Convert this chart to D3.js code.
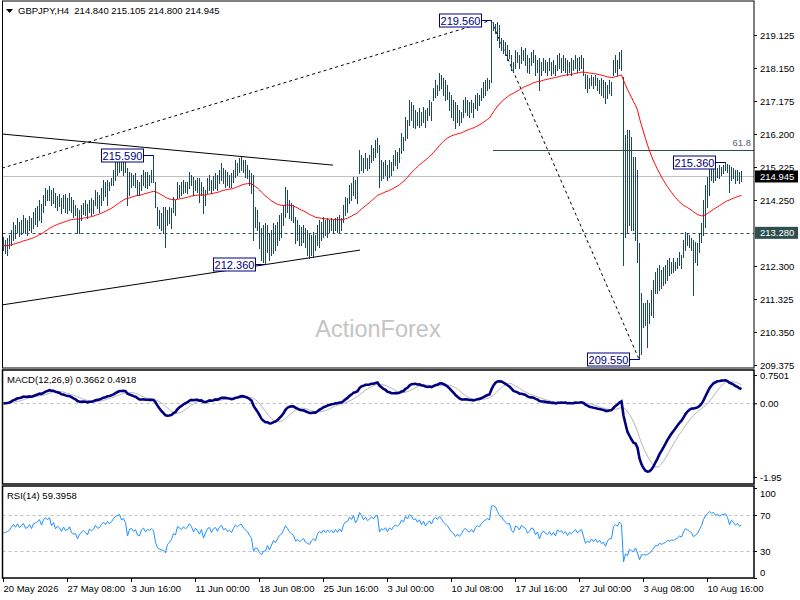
<!DOCTYPE html>
<html>
<head>
<meta charset="utf-8">
<title>GBPJPY,H4</title>
<script src="https://cdn.jsdelivr.net/npm/d3@7"></script>
<style>
body { margin: 0; background: #fff; }
text { font-family: "Liberation Sans", Arial, sans-serif; }
</style>
</head>
<body>
<script>
// H4 bars, 20 May 2026 00:00 onwards
var highs = [
213.16,213.07,213.13,213.22,213.37,213.60,213.51,213.72,213.60,213.66,213.81,
213.72,213.66,213.78,213.72,213.90,214.02,214.07,214.25,214.13,214.40,
214.60,214.55,214.66,214.55,214.60,214.46,214.37,214.43,214.31,214.40,
214.43,214.31,214.46,214.34,214.25,214.10,214.02,213.96,214.10,214.16,
214.25,214.13,214.25,214.31,214.25,214.55,214.49,214.40,214.60,214.84,
214.78,214.84,214.78,214.90,215.14,215.37,215.43,215.58,215.49,215.43,
215.37,215.20,215.08,215.05,214.99,215.05,214.84,214.78,214.99,215.14,
215.08,215.08,214.99,215.14,215.59,214.78,214.04,213.96,213.87,214.04,
214.04,213.96,214.04,214.01,214.34,214.25,214.78,214.69,214.78,214.84,
214.78,214.78,215.08,214.99,214.93,214.84,214.90,214.90,214.78,214.63,
214.55,214.90,214.99,214.84,214.96,215.05,214.99,215.14,215.34,215.20,
215.14,215.08,214.99,215.05,215.14,215.43,215.34,215.49,215.52,215.43,
215.43,215.29,215.14,215.05,214.99,214.04,213.96,213.60,213.42,213.51,
213.57,213.51,213.28,213.37,213.57,213.51,213.60,213.81,213.87,214.10,
214.63,214.55,214.25,214.16,214.10,213.75,213.66,213.51,213.45,213.51,
213.42,213.37,213.28,213.22,213.31,213.22,213.51,213.66,213.60,213.75,
213.66,213.72,213.66,213.72,213.66,213.72,213.75,213.81,213.72,214.10,
214.34,214.31,214.69,214.75,214.93,214.84,214.93,215.73,215.58,215.49,
215.64,215.49,215.58,215.88,215.79,216.02,216.08,215.88,215.43,215.37,
215.43,215.29,215.43,215.37,215.58,215.73,215.67,215.79,216.23,216.11,
216.70,216.61,217.20,217.15,217.06,216.91,216.85,216.97,216.85,217.00,
216.91,216.97,217.20,217.15,217.56,217.79,217.65,218.00,217.94,217.85,
217.79,217.65,217.44,217.35,217.20,217.15,217.06,216.91,216.85,217.20,
217.29,217.20,217.15,217.20,217.12,217.35,217.41,217.35,217.56,217.73,
217.79,217.85,217.79,219.56,219.51,219.45,219.51,219.42,219.04,218.98,
218.92,218.83,218.68,218.53,218.33,218.68,218.62,218.53,218.77,218.68,
218.74,218.53,218.45,218.62,218.68,218.53,218.39,218.45,218.33,218.45,
218.39,218.33,218.45,218.33,218.39,218.24,218.53,218.59,218.45,218.53,
218.45,218.39,218.33,218.45,218.39,218.53,218.45,218.48,218.53,218.45,
217.97,217.94,217.85,217.94,217.88,217.94,217.85,217.79,217.85,217.79,
217.73,217.65,217.79,217.73,218.39,218.53,218.39,218.62,218.68,217.88,
216.17,216.32,216.32,216.11,215.52,215.52,215.14,212.98,211.50,211.20,
211.20,211.30,211.20,211.59,211.89,212.12,212.24,212.33,212.18,212.27,
212.33,212.48,212.54,212.42,212.54,212.42,212.54,212.71,212.63,213.07,
213.31,213.28,213.22,213.13,213.07,213.01,212.98,213.28,213.57,214.25,
214.69,214.93,215.29,215.29,215.34,215.23,215.20,215.29,215.23,215.29,
215.36,215.32,215.29,215.23,215.20,215.14,215.14,215.08,215.105
];
var lows = [
212.77,212.68,212.63,212.83,212.92,213.07,213.13,213.31,213.19,213.25,213.31,
213.28,213.22,213.37,213.31,213.43,213.54,213.48,213.66,213.60,213.90,
214.10,214.25,214.25,214.10,214.16,214.04,213.96,214.07,213.87,214.01,
213.90,213.87,213.96,213.90,213.75,213.81,213.28,213.28,213.66,213.84,
213.81,213.72,213.90,213.81,213.87,214.10,214.01,213.90,214.10,214.25,
214.37,214.10,214.55,214.69,214.69,214.84,214.99,215.08,215.14,214.99,
215.08,214.10,214.40,214.63,214.69,214.63,214.40,214.40,214.55,214.69,
214.63,214.60,214.69,214.78,214.78,214.04,213.51,213.43,213.37,213.28,
212.86,213.51,213.57,213.43,213.90,213.81,214.31,214.34,214.40,214.46,
214.49,214.46,214.60,214.69,214.40,214.55,214.49,214.19,214.40,213.87,
214.10,214.46,214.55,214.46,214.55,214.60,214.55,214.75,214.84,214.75,
214.63,214.69,214.63,214.63,214.78,214.93,214.99,215.08,215.14,215.08,
214.93,214.90,214.69,214.46,213.07,213.45,213.37,212.83,212.48,212.42,
212.36,212.71,212.48,212.63,212.68,212.77,212.92,213.07,213.16,213.51,
213.75,213.90,213.72,213.66,213.60,212.98,213.07,212.92,212.92,213.01,
212.86,212.63,212.54,212.63,212.57,212.77,212.92,212.86,213.07,213.16,
213.22,213.16,213.31,213.37,213.31,213.37,213.31,213.28,213.37,213.60,
213.81,213.90,214.16,214.25,214.40,214.31,214.16,215.05,215.14,215.08,
215.20,215.14,215.20,215.37,215.43,215.52,215.67,214.63,214.84,214.90,
214.99,214.84,214.93,214.99,215.14,215.29,215.20,215.37,215.64,215.73,
216.02,216.08,216.47,216.61,216.41,216.38,216.47,216.41,216.47,216.55,
216.41,216.61,216.76,216.61,217.20,217.29,217.35,217.50,217.56,217.35,
217.20,217.23,216.91,216.70,216.61,216.38,216.55,216.47,216.55,216.70,
216.85,216.76,216.70,216.85,216.70,216.97,216.91,217.06,217.20,217.29,
217.35,217.50,217.56,217.73,219.27,219.18,218.98,218.77,218.68,218.59,
218.53,218.39,218.45,218.09,218.03,218.15,218.33,218.15,218.30,218.39,
218.24,218.03,218.00,218.24,218.33,217.94,218.03,217.50,217.94,218.09,
218.03,217.94,218.09,217.94,218.00,217.94,218.09,218.15,218.03,218.09,
218.03,217.94,218.03,217.94,218.09,218.15,218.03,218.09,218.15,217.94,
217.56,217.44,217.56,217.65,217.56,217.65,217.50,217.41,217.35,217.29,
217.12,217.26,217.41,217.35,217.94,218.03,217.94,218.15,218.09,212.33,
213.16,213.28,213.51,213.37,213.37,213.07,212.42,209.55,209.70,210.50,
210.56,209.91,210.62,210.85,210.79,211.50,211.50,211.59,211.65,211.74,
211.80,211.89,212.03,212.09,212.12,212.18,212.24,212.33,212.24,212.57,
212.77,212.92,212.86,212.77,211.44,212.42,212.33,212.71,213.01,213.22,
213.45,214.04,214.40,214.84,214.78,214.84,214.93,214.90,214.99,215.05,
215.14,215.08,214.49,214.84,214.90,214.75,214.84,214.75,214.80
];
var closes = [
212.90,212.95,213.00,213.10,213.30,213.50,213.35,213.60,213.40,213.55,213.70,
213.45,213.50,213.70,213.50,213.85,213.90,214.00,214.15,213.90,214.30,
214.50,214.40,214.60,214.20,214.45,214.10,214.30,214.20,214.00,214.30,
214.10,214.15,214.35,214.00,213.90,213.95,213.60,213.85,214.00,214.10,
214.00,213.85,214.20,214.10,214.20,214.45,214.30,214.35,214.55,214.70,
214.60,214.80,214.70,214.85,215.05,215.25,215.30,215.40,215.20,215.30,
215.15,214.50,214.90,214.95,214.80,214.90,214.60,214.55,214.90,215.00,
214.80,214.95,214.90,215.00,214.90,214.20,213.70,213.60,213.50,213.45,
213.20,213.60,213.70,213.85,214.20,214.10,214.70,214.60,214.50,214.70,
214.60,214.70,214.95,214.80,214.50,214.75,214.60,214.40,214.70,214.10,
214.45,214.80,214.90,214.55,214.85,214.95,214.70,215.05,215.20,214.90,
215.00,214.80,214.90,214.75,215.05,215.30,215.20,215.35,215.40,215.20,
215.10,215.00,214.80,214.60,213.40,213.60,213.50,213.00,212.70,212.90,
212.90,213.20,212.70,213.00,213.30,213.10,213.35,213.60,213.70,214.00,
214.40,214.20,213.95,213.80,213.70,213.20,213.30,213.10,213.20,213.30,
213.00,212.90,212.80,213.00,213.10,212.95,213.35,213.50,213.40,213.60,
213.45,213.60,213.50,213.60,213.45,213.65,213.50,213.70,213.55,214.00,
214.20,214.25,214.60,214.50,214.85,214.50,214.80,215.60,215.45,215.20,
215.50,215.30,215.45,215.70,215.60,215.90,215.95,214.90,215.20,215.10,
215.30,215.00,215.35,215.20,215.50,215.60,215.55,215.70,216.10,216.00,
216.60,216.45,217.00,216.90,216.70,216.80,216.60,216.85,216.55,216.90,
216.60,216.85,217.10,216.90,217.45,217.60,217.50,217.85,217.70,217.50,
217.40,217.30,217.10,216.90,216.80,216.60,216.75,216.60,216.75,217.00,
217.10,216.95,216.90,217.05,216.90,217.20,217.30,217.25,217.45,217.60,
217.70,217.80,217.75,219.30,219.35,219.30,219.10,218.90,218.85,218.70,
218.60,218.50,218.55,218.20,218.10,218.50,218.45,218.30,218.60,218.50,
218.45,218.20,218.30,218.50,218.45,218.15,218.30,217.90,218.20,218.35,
218.20,218.15,218.30,218.10,218.25,218.05,218.40,218.30,218.35,218.20,
218.30,218.10,218.25,218.20,218.30,218.40,218.25,218.35,218.40,218.10,
217.70,217.80,217.70,217.85,217.70,217.80,217.60,217.70,217.50,217.55,
217.30,217.50,217.60,217.60,218.20,218.30,218.25,218.50,218.40,213.40,
214.20,213.70,214.40,214.00,213.80,214.20,212.90,210.20,210.90,210.90,
210.80,210.90,211.00,211.30,211.50,211.90,211.80,212.10,211.90,212.00,
212.10,212.30,212.20,212.30,212.25,212.35,212.45,212.60,212.50,212.90,
213.20,213.10,213.00,212.90,212.60,212.70,212.80,213.10,213.40,214.00,
214.50,214.80,215.10,215.00,215.10,214.95,215.10,215.00,215.15,215.20,
215.25,215.10,214.75,215.10,215.00,214.85,215.00,214.84,214.945
];

var lastQuote = [214.840, 215.105, 214.800, 214.945];
var dateLabels = ["20 May 2026", "27 May 08:00", "3 Jun 16:00", "11 Jun 00:00", "18 Jun 08:00",
  "25 Jun 16:00", "3 Jul 00:00", "10 Jul 08:00", "17 Jul 16:00", "27 Jul 00:00", "3 Aug 08:00", "10 Aug 16:00"];
var barsPerLabel = 32;
var priceTicks = [219.125, 218.150, 217.175, 216.200, 215.225, 214.250, 212.300, 211.325, 210.350, 209.375];
var supportLevel = 213.280;

// swing labels: [bar index, price]
var swingIdx = [75, 131, 244, 318, 361];
var swingPrice = [215.590, 212.360, 219.560, 209.550, 215.360];

// trendlines: [bar index, price] pairs
var upperLine = [[-0.5, 216.20], [165, 215.28]];
var lowerLine = [[-0.5, 211.15], [178.5, 212.77]];
var riseLine = [[-0.5, 215.19], [244, 219.56]];
var fallLine = [[244, 219.56], [318, 209.55]];
var fibRatio = 0.618, fibStart = 245;

var maPeriod = 55;
var macdParams = [12, 26, 9];
var macdReadout = [0.3662, 0.4918];
var macdTicks = [0.7501, 0, -1.95];
var macdTickText = ["0.7501", "0.00", "-1.95"];
var rsiPeriod = 14;
var rsiReadout = 59.3958;
var rsiTicks = [100, 70, 30, 0];
var rsiSeed = 0.12; // avg gain/loss before the window

var W = 800, H = 600;
var L = 2.5, R = 754;
var panelMain = [1, 368], panelMacd = [370, 484], panelRsi = [486, 578];

var svg = d3.select("body").append("svg").attr("width", W).attr("height", H);
svg.append("rect").attr("width", W).attr("height", H).attr("fill", "#fff");

var n = closes.length;
var x = d3.scaleLinear().domain([0, n - 1]).range([3, 3 + 2 * (n - 1)]);
var y = d3.scaleLinear().domain([209.375, 219.125]).range([365, 35]);
var yMacd = d3.scaleLinear().domain([-1.95, 0.7501]).range([477, 375]);
var yRsi = d3.scaleLinear().domain([0, 100]).range([578, 488]);

var defs = svg.append("defs");
[["cMain", panelMain], ["cMacd", panelMacd], ["cRsi", panelRsi]].forEach(function(c) {
  defs.append("clipPath").attr("id", c[0]).append("rect")
    .attr("x", L).attr("y", c[1][0]).attr("width", R - L).attr("height", c[1][1] - c[1][0]);
});

// indicators
var ema = function(arr, p) {
  var k = 2 / (p + 1), out = [];
  arr.forEach(function(v, i) { out.push(i == 0 ? v : v * k + out[i - 1] * (1 - k)); });
  return out;
};
var ma = ema(closes, maPeriod);
var e12 = ema(closes, macdParams[0]), e26 = ema(closes, macdParams[1]);
var macd = e12.map(function(v, i) { return v - e26[i]; });
var signal = macd.map(function(v, i) {
  return d3.mean(macd.slice(Math.max(0, i - macdParams[2] + 1), i + 1));
});
var rsi = [], ag = rsiSeed, al = rsiSeed;
closes.forEach(function(c, i) {
  if (i > 0) {
    var ch = c - closes[i - 1];
    ag = (ag * (rsiPeriod - 1) + Math.max(ch, 0)) / rsiPeriod;
    al = (al * (rsiPeriod - 1) + Math.max(-ch, 0)) / rsiPeriod;
  }
  rsi.push(al == 0 ? 100 : 100 - 100 / (1 + ag / al));
});

var font = 9.5;

// main panel
var gMain = svg.append("g");
var gm = gMain.append("g").attr("clip-path", "url(#cMain)");

gm.append("text").attr("x", 378).attr("y", 337).attr("text-anchor", "middle")
  .attr("font-size", 23.5).attr("fill", "#c4c4c4").text("ActionForex");

// current price line
gm.append("line").attr("x1", L).attr("x2", R)
  .attr("y1", Math.round(y(lastQuote[3])) + 0.5).attr("y2", Math.round(y(lastQuote[3])) + 0.5)
  .attr("stroke", "#c0c0c0");
// support
gm.append("line").attr("x1", L).attr("x2", R)
  .attr("y1", Math.round(y(supportLevel)) + 0.5).attr("y2", Math.round(y(supportLevel)) + 0.5)
  .attr("stroke", "#2f4f4f").attr("stroke-dasharray", "3,3");
// fib 61.8
var fibLevel = swingPrice[3] + fibRatio * (swingPrice[2] - swingPrice[3]);
gm.append("line").attr("x1", x(fibStart)).attr("x2", R)
  .attr("y1", Math.round(y(fibLevel)) + 0.5).attr("y2", Math.round(y(fibLevel)) + 0.5)
  .attr("stroke", "#2f4f4f");
gm.append("text").attr("x", R - 3).attr("y", y(fibLevel) - 4).attr("text-anchor", "end")
  .attr("font-size", font).attr("fill", "#55636a").text((fibRatio * 100).toFixed(1));

var seg = d3.line().x(function(d) { return x(d[0]); }).y(function(d) { return y(d[1]); });
gm.append("path").attr("d", seg(upperLine)).attr("stroke", "#000").attr("fill", "none");
gm.append("path").attr("d", seg(lowerLine)).attr("stroke", "#000").attr("fill", "none");
gm.append("path").attr("d", seg(riseLine)).attr("stroke", "#000").attr("fill", "none").attr("stroke-dasharray", "3,3");
gm.append("path").attr("d", seg(fallLine)).attr("stroke", "#000").attr("fill", "none").attr("stroke-dasharray", "3,3");

// bars
gm.append("g").selectAll("line").data(highs).join("line")
  .attr("x1", function(d, i) { return Math.round(x(i)) + 0.5; })
  .attr("x2", function(d, i) { return Math.round(x(i)) + 0.5; })
  .attr("y1", function(d) { return Math.round(y(d)); })
  .attr("y2", function(d, i) { return Math.round(y(lows[i])) + 1; })
  .attr("stroke", "#1a4766").attr("stroke-width", 1).attr("shape-rendering", "crispEdges");

gm.append("path").datum(ma)
  .attr("d", d3.line().x(function(d, i) { return x(i) + 0.5; }).y(function(d) { return y(d); }))
  .attr("fill", "none").attr("stroke", "#ff0000").attr("stroke-width", 1);

// swing labels
swingIdx.forEach(function(bi, k) {
  var bx = Math.round(x(bi)) + 0.5, by = Math.round(y(swingPrice[k])) + 0.5;
  gm.append("line").attr("x1", bx - 10).attr("x2", bx).attr("y1", by).attr("y2", by).attr("stroke", "#000080");
  gm.append("rect").attr("x", bx - 52).attr("y", by - 6.5).attr("width", 42).attr("height", 13)
    .attr("fill", "#fff").attr("stroke", "#000080");
  gm.append("text").attr("x", bx - 31).attr("y", by + 4).attr("text-anchor", "middle")
    .attr("font-size", 11).attr("fill", "#000080").text(swingPrice[k].toFixed(3));
});

gMain.append("rect").attr("x", L).attr("y", panelMain[0]).attr("width", R - L)
  .attr("height", panelMain[1] - panelMain[0]).attr("fill", "none").attr("stroke", "#000");

// header
gMain.append("path").attr("d", "M6,9L13,9L9.5,13Z").attr("fill", "#000");
gMain.append("text").attr("x", 18).attr("y", 14).attr("font-size", font).attr("fill", "#000")
  .attr("xml:space", "preserve")
  .text("GBPJPY,H4  " + lastQuote.map(function(v) { return v.toFixed(3); }).join(" "));

// price axis
var ay = svg.append("g").attr("transform", "translate(" + R + ",0)")
  .call(d3.axisRight(y).tickValues(priceTicks).tickSize(3).tickFormat(d3.format(".3f")));
ay.select(".domain").remove();
ay.selectAll("text").attr("font-size", font).attr("font-family", "Liberation Sans, Arial").attr("fill", "#000").attr("x", 6);
ay.selectAll("line").attr("stroke", "#000");

var tagBox = function(v, bg) {
  var ty = y(v);
  svg.append("rect").attr("x", R + 1).attr("y", ty - 6).attr("width", 43).attr("height", 12).attr("fill", bg);
  svg.append("text").attr("x", R + 6).attr("y", ty + 3.5).attr("font-size", font)
    .attr("fill", "#fff").text(v.toFixed(3));
};
tagBox(supportLevel, "#2f4f4f");
tagBox(lastQuote[3], "#000");

// MACD panel
var gMacd = svg.append("g");
var gd = gMacd.append("g").attr("clip-path", "url(#cMacd)");
gd.append("line").attr("x1", L).attr("x2", R).attr("y1", Math.round(yMacd(0)) + 0.5).attr("y2", Math.round(yMacd(0)) + 0.5)
  .attr("stroke", "#c0c0c0").attr("stroke-dasharray", "3,3");
var lineMacd = d3.line().x(function(d, i) { return x(i) + 0.5; }).y(function(d) { return yMacd(d); });
gd.append("path").datum(signal).attr("d", lineMacd).attr("fill", "none").attr("stroke", "#b4b4b4").attr("stroke-width", 1);
gd.append("path").datum(macd).attr("d", lineMacd).attr("fill", "none").attr("stroke", "#000080").attr("stroke-width", 2.6);
gMacd.append("rect").attr("x", L).attr("y", panelMacd[0]).attr("width", R - L)
  .attr("height", panelMacd[1] - panelMacd[0]).attr("fill", "none").attr("stroke", "#000").attr("stroke-width", 1.5);
gMacd.append("text").attr("x", 7).attr("y", 383).attr("font-size", font).attr("fill", "#000")
  .text("MACD(" + macdParams.join(",") + ") " + macdReadout.map(function(v) { return v.toFixed(4); }).join(" "));
var am = svg.append("g").attr("transform", "translate(" + R + ",0)")
  .call(d3.axisRight(yMacd).tickValues(macdTicks).tickSize(3).tickFormat(function(d, i) { return macdTickText[i]; }));
am.select(".domain").remove();
am.selectAll("text").attr("font-size", font).attr("font-family", "Liberation Sans, Arial").attr("fill", "#000").attr("x", 6);

// RSI panel
var gRsi = svg.append("g");
var gr = gRsi.append("g").attr("clip-path", "url(#cRsi)");
[70, 30].forEach(function(v) {
  gr.append("line").attr("x1", L).attr("x2", R).attr("y1", Math.round(yRsi(v)) + 0.5).attr("y2", Math.round(yRsi(v)) + 0.5)
    .attr("stroke", "#c0c0c0").attr("stroke-dasharray", "3,3");
});
gr.append("path").datum(rsi)
  .attr("d", d3.line().x(function(d, i) { return x(i) + 0.5; }).y(function(d) { return yRsi(d); }))
  .attr("fill", "none").attr("stroke", "#1e90ff").attr("stroke-width", 1);
gRsi.append("rect").attr("x", L).attr("y", panelRsi[0]).attr("width", R - L)
  .attr("height", panelRsi[1] - panelRsi[0]).attr("fill", "none").attr("stroke", "#000").attr("stroke-width", 1.5);
gRsi.append("text").attr("x", 7).attr("y", 499).attr("font-size", font).attr("fill", "#000")
  .text("RSI(" + rsiPeriod + ") " + rsiReadout.toFixed(4));
var ar = svg.append("g").attr("transform", "translate(" + R + ",0)")
  .call(d3.axisRight(yRsi).tickValues(rsiTicks).tickSize(3));
ar.select(".domain").remove();
ar.selectAll("text").attr("font-size", font).attr("font-family", "Liberation Sans, Arial").attr("fill", "#000").attr("x", 6)
  .attr("dy", function(d) { return d == 100 ? "0.9em" : d == 0 ? "-0.3em" : "0.32em"; });

// time axis
var ax = svg.append("g").attr("transform", "translate(0," + panelRsi[1] + ")")
  .call(d3.axisBottom(x).tickValues(d3.range(0, n, barsPerLabel)).tickSize(4)
    .tickFormat(function(d, i) { return dateLabels[i]; }));
ax.select(".domain").remove();
ax.selectAll("line").attr("stroke", "#000");
ax.selectAll("text").attr("font-size", font).attr("font-family", "Liberation Sans, Arial").attr("fill", "#000")
  .attr("text-anchor", "start").attr("y", 7).attr("dy", "0.71em");
</script>
</body>
</html>
